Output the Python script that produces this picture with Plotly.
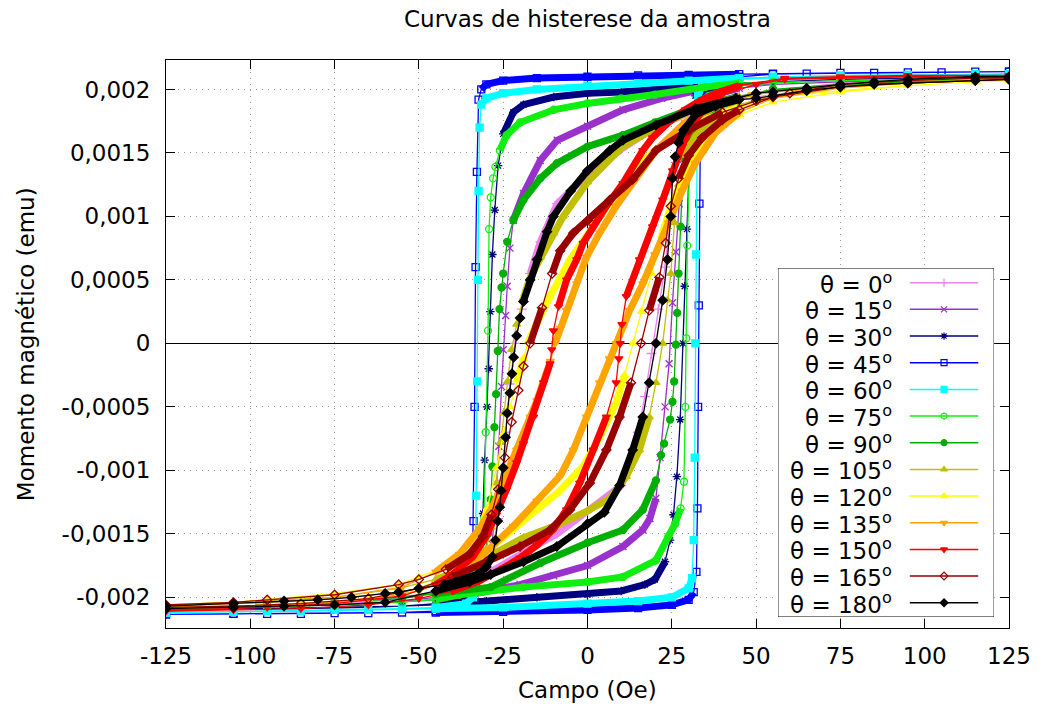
import plotly.graph_objects as go

# ---------------- data: field (Oe) and magnetic moment (1e-3 emu) ----------------
# each loop: descending branch (dn, +125 -> -125) and ascending branch (up, -125 -> +125)

h0_dn = [125, 115, 95, 75, 55, 45, 32, 20, 10, 0, -9, -14, -17, -19.5, -21.5, -23, -24.3, -25.3, -26.5, -28, -31, -40, -55, -75, -95, -105, -125]
m0_dn = [2.10, 2.09, 2.08, 2.05, 1.99, 1.95, 1.84, 1.70, 1.53, 1.33, 1.10, 0.80, 0.55, 0.27, 0.0, -0.32, -0.70, -1.08, -1.38, -1.60, -1.75, -1.87, -1.96, -2.01, -2.04, -2.05, -2.07]
h0_up = [-125, -105, -85, -65, -45, -30, -19, -9, 0, 10, 13, 15, 17, 19, 21, 23, 24.5, 25.5, 27, 30, 38, 45, 55, 75, 95, 115, 125]
m0_up = [-2.09, -2.08, -2.06, -2.04, -1.96, -1.82, -1.65, -1.50, -1.32, -1.12, -0.92, -0.70, -0.42, -0.08, 0.27, 0.60, 0.98, 1.35, 1.58, 1.72, 1.86, 1.92, 1.96, 2.02, 2.05, 2.07, 2.08]

h15_dn = [125, 115, 95, 75, 55, 45, 32, 22, 10.5, 0, -9, -14, -19, -22, -23, -23.8, -24.3, -25, -25.5, -26.3, -27.2, -28.3, -30, -35, -45, -55, -75, -95, -105, -125]
m15_dn = [2.09, 2.09, 2.08, 2.06, 2.04, 2.03, 1.99, 1.93, 1.84, 1.71, 1.60, 1.44, 1.18, 0.97, 0.75, 0.45, 0.22, -0.05, -0.34, -0.81, -1.25, -1.58, -1.80, -1.92, -2.00, -2.03, -2.06, -2.07, -2.08, -2.09]
h15_up = [-125, -105, -85, -65, -45, -35, -20, -10, 0, 10.5, 16.4, 18.5, 20.3, 21.5, 23, 24.2, 25.2, 26.2, 27.2, 28.5, 30, 33, 38, 45, 55, 75, 95, 115, 125]
m15_up = [-2.09, -2.08, -2.07, -2.05, -2.02, -1.98, -1.90, -1.83, -1.75, -1.60, -1.47, -1.38, -1.22, -0.90, -0.50, -0.16, 0.32, 0.72, 1.10, 1.45, 1.68, 1.85, 1.96, 2.01, 2.04, 2.06, 2.08, 2.08, 2.09]

h30_dn = [125, 115, 95, 75, 55, 45, 32, 20, 10, 0, -10, -19, -22, -25, -26.5, -27.5, -28.2, -28.8, -29.3, -29.8, -30.5, -31, -31.7, -33, -36, -45, -55, -75, -95, -105, -125]
m30_dn = [2.10, 2.10, 2.09, 2.08, 2.06, 2.05, 2.02, 2.00, 1.98, 1.97, 1.94, 1.88, 1.82, 1.65, 1.40, 1.05, 0.70, 0.25, -0.20, -0.50, -0.92, -1.34, -1.70, -1.93, -2.00, -2.05, -2.07, -2.08, -2.09, -2.09, -2.10]
h30_up = [-125, -105, -85, -65, -45, -30, -15, 0, 10, 17, 20, 23, 24.5, 25.5, 26.5, 27.5, 28.3, 28.8, 29.5, 30.1, 30.8, 32, 36, 45, 55, 75, 95, 115, 125]
m30_up = [-2.10, -2.09, -2.09, -2.08, -2.06, -2.03, -2.00, -1.98, -1.95, -1.90, -1.86, -1.72, -1.55, -1.35, -1.05, -0.60, 0.00, 0.45, 0.90, 1.35, 1.75, 1.95, 2.01, 2.04, 2.06, 2.08, 2.09, 2.10, 2.10]

h45_dn = [125, 115, 95, 75, 55, 45, 30, 15, 0, -15, -25, -30, -31.5, -32.3, -32.8, -33.2, -33.5, -33.8, -34.2, -36, -45, -55, -75, -95, -105, -125]
m45_dn = [2.14, 2.14, 2.135, 2.13, 2.125, 2.12, 2.115, 2.11, 2.10, 2.09, 2.07, 2.04, 2.00, 1.92, 1.35, 0.60, -0.50, -1.40, -1.95, -2.08, -2.11, -2.12, -2.125, -2.13, -2.13, -2.135]
h45_up = [-125, -105, -85, -65, -45, -25, 0, 15, 25, 30, 31.5, 32.3, 32.6, 32.8, 33, 33.2, 33.5, 34, 36, 45, 55, 65, 85, 105, 125]
m45_up = [-2.135, -2.13, -2.13, -2.125, -2.12, -2.115, -2.10, -2.085, -2.06, -2.02, -1.96, -1.80, -1.30, -0.50, 0.30, 1.10, 1.80, 2.00, 2.07, 2.10, 2.12, 2.125, 2.13, 2.135, 2.14]

h60_dn = [125, 115, 95, 75, 55, 45, 30, 15, 0, -15, -25, -30, -31.5, -32, -32.3, -32.5, -32.7, -33, -33.3, -34, -36, -45, -55, -75, -95, -105, -125]
m60_dn = [2.12, 2.12, 2.115, 2.11, 2.10, 2.09, 2.07, 2.05, 2.03, 2.00, 1.97, 1.93, 1.88, 1.70, 1.20, 0.50, -0.30, -1.20, -1.80, -2.00, -2.05, -2.08, -2.09, -2.10, -2.11, -2.115, -2.12]
h60_up = [-125, -105, -85, -65, -45, -25, 0, 15, 25, 30, 31, 31.5, 31.8, 32, 32.2, 32.5, 32.8, 34, 38, 45, 55, 75, 95, 115, 125]
m60_up = [-2.12, -2.115, -2.11, -2.10, -2.09, -2.08, -2.05, -2.03, -2.00, -1.93, -1.85, -1.55, -0.90, 0.00, 0.70, 1.50, 1.95, 2.03, 2.06, 2.08, 2.09, 2.10, 2.11, 2.115, 2.12]

h75_dn = [125, 115, 95, 75, 55, 45, 35, 20, 10, 0, -10, -20, -24, -26, -27.3, -28, -28.7, -29.2, -29.5, -30.2, -30.7, -31.1, -32, -34, -38, -45, -55, -75, -95, -105, -125]
m75_dn = [2.09, 2.09, 2.08, 2.07, 2.06, 2.05, 2.02, 1.96, 1.93, 1.89, 1.84, 1.74, 1.64, 1.52, 1.39, 1.30, 1.15, 0.90, 0.10, -0.70, -1.38, -1.54, -1.78, -1.90, -1.97, -2.01, -2.04, -2.06, -2.07, -2.08, -2.09]
h75_up = [-125, -105, -85, -65, -45, -38, -19, 0, 10.5, 20.3, 24, 26, 27.6, 28.6, 29, 29.3, 29.6, 30.3, 31, 33, 36, 45, 55, 75, 95, 115, 125]
m75_up = [-2.09, -2.08, -2.07, -2.05, -2.02, -1.98, -1.92, -1.88, -1.84, -1.71, -1.52, -1.42, -1.30, -1.09, -0.50, 0.04, 0.77, 1.49, 1.70, 1.85, 1.95, 2.03, 2.05, 2.07, 2.08, 2.09, 2.09]

h90_dn = [125, 115, 95, 75, 55, 44, 32, 20, 10.5, 0, -9, -14, -19, -22, -23.8, -25, -25.5, -26.1, -26.6, -27.1, -27.6, -28.2, -28.7, -29.5, -30.5, -33, -38, -45, -55, -75, -95, -105, -125]
m90_dn = [2.08, 2.08, 2.06, 2.04, 2.00, 1.94, 1.86, 1.74, 1.64, 1.55, 1.42, 1.30, 1.13, 0.97, 0.80, 0.55, 0.44, 0.27, -0.06, -0.40, -0.66, -0.97, -1.23, -1.50, -1.70, -1.85, -1.93, -1.97, -2.01, -2.04, -2.06, -2.07, -2.08]
h90_up = [-125, -105, -85, -65, -45, -28.7, -14, 0, 10.5, 16.4, 20.3, 21.8, 22.7, 24.5, 25.2, 25.7, 26.2, 26.6, 27, 27.6, 28.1, 29, 30.5, 33, 38, 45, 55, 75, 95, 115, 125]
m90_up = [-2.08, -2.07, -2.05, -2.02, -1.97, -1.92, -1.73, -1.57, -1.47, -1.31, -1.08, -0.88, -0.79, -0.60, -0.46, -0.30, -0.01, 0.24, 0.55, 0.92, 1.22, 1.45, 1.62, 1.75, 1.86, 1.93, 1.99, 2.03, 2.06, 2.07, 2.08]

h105_dn = [125, 115, 95, 75, 55, 45, 32, 20.3, 10.5, 8.5, 0, -7.2, -10, -14, -17, -19, -21, -22.5, -23.7, -24.8, -25.8, -27, -28.5, -30, -33, -38, -45, -56, -75, -95, -105, -125]
m105_dn = [2.09, 2.08, 2.07, 2.04, 1.98, 1.94, 1.85, 1.70, 1.55, 1.50, 1.27, 1.00, 0.87, 0.68, 0.52, 0.36, 0.15, -0.05, -0.30, -0.55, -0.78, -1.10, -1.45, -1.62, -1.72, -1.79, -1.86, -1.93, -2.00, -2.03, -2.04, -2.06]
h105_up = [-125, -105, -85, -65, -45, -38.5, -28.7, -19, -9, 0, 6.6, 11.5, 15.4, 18.3, 20.3, 22.3, 23.7, 24.7, 25.8, 27, 29, 32, 38, 45, 55, 75, 95, 115, 125]
m105_up = [-2.08, -2.07, -2.05, -2.02, -1.90, -1.80, -1.67, -1.53, -1.43, -1.32, -1.22, -1.05, -0.84, -0.58, -0.31, 0.00, 0.34, 0.55, 0.95, 1.25, 1.48, 1.63, 1.79, 1.88, 1.95, 2.02, 2.05, 2.07, 2.08]

h120_dn = [125, 115, 95, 75, 53.5, 44, 34, 30, 25, 20, 14.4, 8.5, 0.7, -5.2, -11.1, -15, -17.5, -19, -20.9, -23, -25, -27, -29.7, -32.6, -38, -42.4, -50, -56, -75, -95, -105, -125]
m120_dn = [2.07, 2.06, 2.03, 1.99, 1.93, 1.85, 1.76, 1.72, 1.62, 1.52, 1.40, 1.18, 0.89, 0.66, 0.37, 0.17, 0.02, -0.12, -0.29, -0.50, -0.72, -0.98, -1.30, -1.55, -1.70, -1.76, -1.84, -1.90, -1.97, -2.02, -2.04, -2.06]
h120_up = [-125, -105, -85, -65, -50, -40, -30, -20, -9, -1.3, 3.6, 8.5, 11, 13.5, 16, 19, 22, 25, 30, 35, 40, 45, 55, 75, 95, 115, 125]
m120_up = [-2.08, -2.07, -2.05, -2.01, -1.93, -1.82, -1.64, -1.42, -1.18, -0.97, -0.74, -0.47, -0.25, 0.00, 0.25, 0.55, 0.85, 1.10, 1.40, 1.60, 1.73, 1.80, 1.90, 1.98, 2.03, 2.06, 2.07]

h135_dn = [125, 115, 95, 75, 55, 48.7, 39, 29, 20.3, 14.4, 8.5, 3.6, -0.3, -3.2, -6.2, -8, -9.6, -11, -13, -15, -17, -21, -24, -28, -32, -38, -45, -55, -75, -95, -105, -125]
m135_dn = [2.08, 2.07, 2.05, 2.02, 1.98, 1.96, 1.88, 1.74, 1.52, 1.31, 1.08, 0.87, 0.68, 0.47, 0.26, 0.12, 0.00, -0.14, -0.31, -0.45, -0.58, -0.84, -1.05, -1.28, -1.46, -1.66, -1.80, -1.92, -2.00, -2.04, -2.05, -2.07]
h135_up = [-125, -105, -85, -65, -50, -40, -30, -22, -15, -8, -4.2, -0.3, 3.6, 6.5, 8.5, 10.5, 12.5, 16.4, 20, 24, 28, 32, 38, 45, 55, 75, 95, 115, 125]
m135_up = [-2.09, -2.08, -2.06, -2.02, -1.95, -1.84, -1.64, -1.44, -1.24, -1.04, -0.84, -0.58, -0.31, -0.12, 0.00, 0.13, 0.26, 0.47, 0.70, 0.95, 1.20, 1.42, 1.66, 1.82, 1.93, 2.01, 2.05, 2.07, 2.08]

h150_dn = [125, 115, 95, 75, 58.5, 45, 39, 34, 29, 24, 19.3, 16.4, 10.5, 5.6, 1.7, -1.3, -3.2, -6.2, -8.6, -10.1, -10.6, -11.1, -13, -16, -19, -21, -24, -27, -30, -34, -40, -45, -55, -75, -95, -105, -125]
m150_dn = [2.11, 2.11, 2.11, 2.10, 2.09, 2.03, 1.98, 1.92, 1.84, 1.74, 1.62, 1.52, 1.26, 1.08, 0.92, 0.79, 0.66, 0.50, 0.29, 0.10, -0.05, -0.16, -0.31, -0.58, -0.79, -0.94, -1.15, -1.35, -1.52, -1.68, -1.82, -1.90, -1.99, -2.05, -2.08, -2.09, -2.10]
h150_up = [-125, -105, -85, -65, -50, -40, -32, -25, -20, -15, -10, -6.2, -2.3, 1.7, 5.6, 8.5, 9.3, 9.7, 10.2, 11.5, 15.4, 19.3, 22.3, 25.2, 28, 31, 35, 40, 50, 58.5, 75, 95, 115, 125]
m150_up = [-2.11, -2.10, -2.09, -2.06, -2.01, -1.95, -1.87, -1.77, -1.69, -1.59, -1.46, -1.31, -1.10, -0.84, -0.58, -0.31, -0.12, 0.00, 0.15, 0.37, 0.66, 0.92, 1.13, 1.36, 1.55, 1.72, 1.86, 1.96, 2.04, 2.08, 2.09, 2.10, 2.11, 2.11]

h165_dn = [125, 115, 95, 75, 60, 50, 40, 30, 20.3, 13.4, 6.6, 0.2, -4.2, -8.1, -10.5, -13.5, -17, -19, -20.5, -22.5, -24.5, -26.5, -28.5, -31, -35, -42, -50, -56, -75, -95, -105, -125]
m165_dn = [2.09, 2.09, 2.07, 2.04, 1.97, 1.91, 1.82, 1.68, 1.52, 1.29, 1.13, 0.97, 0.87, 0.73, 0.55, 0.28, 0.00, -0.18, -0.37, -0.62, -0.90, -1.15, -1.35, -1.52, -1.66, -1.78, -1.86, -1.90, -1.98, -2.02, -2.04, -2.06]
h165_up = [-125, -105, -85, -65, -50, -40, -30, -20, -11.1, -5.2, 0.7, 5.6, 9.5, 12.9, 15.9, 18.3, 21.3, 23.2, 24.7, 27, 30, 34, 40, 45, 55, 75, 95, 115, 125]
m165_up = [-2.08, -2.07, -2.05, -2.01, -1.93, -1.84, -1.72, -1.60, -1.47, -1.31, -1.10, -0.84, -0.58, -0.31, 0.00, 0.26, 0.52, 0.79, 1.08, 1.30, 1.48, 1.62, 1.76, 1.84, 1.94, 2.02, 2.05, 2.07, 2.08]

h180_dn = [125, 115, 95, 85, 75, 65, 55, 50, 44, 32, 20.3, 10.5, 6.6, 0, -5, -10.1, -12, -15, -17, -19, -20, -21, -21.9, -22.4, -23, -23.8, -24.3, -25, -25.6, -26, -26.6, -27.3, -28.2, -30, -32.6, -42.4, -50, -56, -60, -70, -80, -90, -105, -125]
m180_dn = [2.10, 2.10, 2.08, 2.06, 2.04, 2.01, 1.98, 1.97, 1.93, 1.85, 1.72, 1.60, 1.52, 1.36, 1.20, 1.00, 0.88, 0.66, 0.50, 0.33, 0.20, 0.06, -0.11, -0.24, -0.39, -0.55, -0.74, -0.98, -1.16, -1.29, -1.40, -1.55, -1.68, -1.76, -1.82, -1.90, -1.93, -1.96, -1.97, -2.00, -2.02, -2.03, -2.05, -2.07]
h180_up = [-125, -105, -90, -75, -60, -45, -35, -28.7, -19, -9.1, 0, 5, 9.5, 13.4, 16.4, 18.3, 20.3, 22.3, 23.7, 24.7, 25.2, 26, 27, 28.5, 32, 38, 45, 50, 55, 65, 75, 85, 95, 115, 125]
m180_up = [-2.09, -2.08, -2.07, -2.06, -2.04, -1.95, -1.88, -1.82, -1.72, -1.60, -1.42, -1.33, -1.12, -0.84, -0.58, -0.31, 0.00, 0.34, 0.66, 1.00, 1.30, 1.47, 1.58, 1.68, 1.80, 1.87, 1.92, 1.93, 1.95, 1.99, 2.02, 2.04, 2.05, 2.07, 2.08]

angles = [0, 15, 30, 45, 60, 75, 90, 105, 120, 135, 150, 165, 180]
colors = ["#ee82ee", "#9932cc", "#000080", "#0000ff", "#00ffff", "#11ee11", "#00b000",
          "#c0c000", "#ffff00", "#ffa500", "#ff0000", "#990000", "#000000"]
symbols = ["cross-thin-open", "x-thin-open", "asterisk-open", "square-open", "square",
           "circle-open", "circle", "triangle-up", "triangle-up", "triangle-down",
           "triangle-down", "diamond-open", "diamond"]

x_tick_vals = [-125, -100, -75, -50, -25, 0, 25, 50, 75, 100, 125]
x_tick_text = ["-125", "-100", "-75", "-50", "-25", "0", "25", "50", "75", "100", "125"]
y_tick_vals = [0.002, 0.0015, 0.001, 0.0005, 0, -0.0005, -0.001, -0.0015, -0.002]
y_tick_text = ["0,002", "0,0015", "0,001", "0,0005", "0", "-0,0005", "-0,001", "-0,0015", "-0,002"]

loops = [
    (h0_dn, m0_dn, h0_up, m0_up), (h15_dn, m15_dn, h15_up, m15_up),
    (h30_dn, m30_dn, h30_up, m30_up), (h45_dn, m45_dn, h45_up, m45_up),
    (h60_dn, m60_dn, h60_up, m60_up), (h75_dn, m75_dn, h75_up, m75_up),
    (h90_dn, m90_dn, h90_up, m90_up), (h105_dn, m105_dn, h105_up, m105_up),
    (h120_dn, m120_dn, h120_up, m120_up), (h135_dn, m135_dn, h135_up, m135_up),
    (h150_dn, m150_dn, h150_up, m150_up), (h165_dn, m165_dn, h165_up, m165_up),
    (h180_dn, m180_dn, h180_up, m180_up),
]
SCALE = 1e-3  # stored values are in units of 1e-3 emu

FONT = "DejaVu Sans"
FS = 23


def dense_segments(h, m, hmax=47, smax=0.09):
    """Return the parts of a path lying in the densely sampled, gently sloped region
    (drawn as a thick band, like the overlapping point markers of the original)."""
    xs, ys, prev = [], [], False
    for i in range(len(h) - 1):
        dh = abs(h[i + 1] - h[i])
        ok = (abs(h[i]) <= hmax and abs(h[i + 1]) <= hmax and dh > 0
              and abs(m[i + 1] - m[i]) / dh < smax)
        if ok:
            if not prev:
                xs.append(h[i]); ys.append(m[i] * SCALE)
            xs.append(h[i + 1]); ys.append(m[i + 1] * SCALE)
        elif prev:
            xs.append(None); ys.append(None)
        prev = ok
    return xs, ys


fig = go.Figure()

for ang, col, sym, (hd, md, hu, mu) in zip(angles, colors, symbols, loops):
    hh, mm = hd + hu, md + mu
    bx, by = dense_segments(hh, mm)
    fig.add_trace(go.Scatter(
        x=bx, y=by, mode="lines", line=dict(color=col, width=7),
        showlegend=False, hoverinfo="skip", connectgaps=False,
    ))
    fig.add_trace(go.Scatter(
        x=hh,
        y=[v * SCALE for v in mm],
        mode="lines+markers",
        name=f"θ = {ang}º",
        line=dict(color=col, width=1.3),
        marker=dict(symbol=sym, size=7, color=col, line=dict(color=col, width=1.3)),
        showlegend=False,
    ))

# ---- custom key (gnuplot style: text left, sample right) ----
W, H = 1043, 707
L, R, T, B = 166, 1016, 60, 628
box_l, box_r, box_t, box_b = 783, 1001, 268, 617
dom_x = [(box_l - L) / (R - L), (box_r - L) / (R - L)]
dom_y = [(B - box_b) / (B - T), (B - box_t) / (B - T)]
bw, bh = box_r - box_l, box_b - box_t

fig.add_trace(go.Scatter(
    x=[0, bw, bw, 0, 0], y=[0, 0, bh, bh, 0], mode="lines", fill="toself",
    fillcolor="white", line=dict(color="black", width=1), showlegend=False,
    hoverinfo="skip", xaxis="x2", yaxis="y2", cliponaxis=False,
))
annotations = []
row0, drow = 282.7, 26.67
for i, (ang, col, sym) in enumerate(zip(angles, colors, symbols)):
    yy = box_b - (row0 + i * drow)
    fig.add_trace(go.Scatter(
        x=[133, 202], y=[yy, yy], mode="lines", line=dict(color=col, width=1.5),
        showlegend=False, hoverinfo="skip", xaxis="x2", yaxis="y2", cliponaxis=False,
    ))
    fig.add_trace(go.Scatter(
        x=[167.5], y=[yy], mode="markers",
        marker=dict(symbol=sym, size=6, color=col, line=dict(color=col, width=1.2)),
        showlegend=False, hoverinfo="skip", xaxis="x2", yaxis="y2", cliponaxis=False,
    ))
    annotations.append(dict(
        x=117, y=yy, xref="x2", yref="y2", xanchor="right", yanchor="middle",
        text=f"θ = {ang}<sup>o</sup>", showarrow=False,
        font=dict(family=FONT, size=FS, color="black"),
    ))

annotations.append(dict(
    x=0.5, y=(B - 19) / (B - T), xref="paper", yref="paper", text="Curvas de histerese da amostra",
    showarrow=False, xanchor="center", yanchor="middle",
    font=dict(family=FONT, size=FS, color="black"),
))
annotations.append(dict(
    x=0.5, y=(B - 690) / (B - T), xref="paper", yref="paper", text="Campo (Oe)",
    showarrow=False, xanchor="center", yanchor="middle",
    font=dict(family=FONT, size=FS, color="black"),
))
annotations.append(dict(
    x=(25 - L) / (R - L), y=0.5, xref="paper", yref="paper", text="Momento magnético (emu)",
    showarrow=False, xanchor="center", yanchor="middle", textangle=-90,
    font=dict(family=FONT, size=FS, color="black"),
))

axis_common = dict(
    showline=True, linecolor="black", linewidth=1, mirror="ticks",
    ticks="inside", ticklen=9, tickwidth=1, tickcolor="black",
    showgrid=True, gridcolor="#9a9a9a", gridwidth=1, griddash="1px,5px",
    zeroline=True, zerolinecolor="black", zerolinewidth=1,
    tickfont=dict(family=FONT, size=FS, color="black"),
)

fig.update_layout(
    width=W, height=H,
    margin=dict(l=L, r=W - R, t=T, b=H - B),
    paper_bgcolor="white", plot_bgcolor="white",
    font=dict(family=FONT, size=FS, color="black"),
    xaxis=dict(range=[-125, 125], tickvals=x_tick_vals, ticktext=x_tick_text,
               ticklabelstandoff=7, **axis_common),
    yaxis=dict(range=[-0.002242, 0.002232], tickvals=y_tick_vals, ticktext=y_tick_text,
               ticklabelstandoff=10, **axis_common),
    xaxis2=dict(domain=dom_x, range=[0, bw], visible=False, anchor="y2", fixedrange=True),
    yaxis2=dict(domain=dom_y, range=[0, bh], visible=False, anchor="x2", fixedrange=True),
    annotations=annotations,
    showlegend=False,
)

fig.write_html("out.html")
